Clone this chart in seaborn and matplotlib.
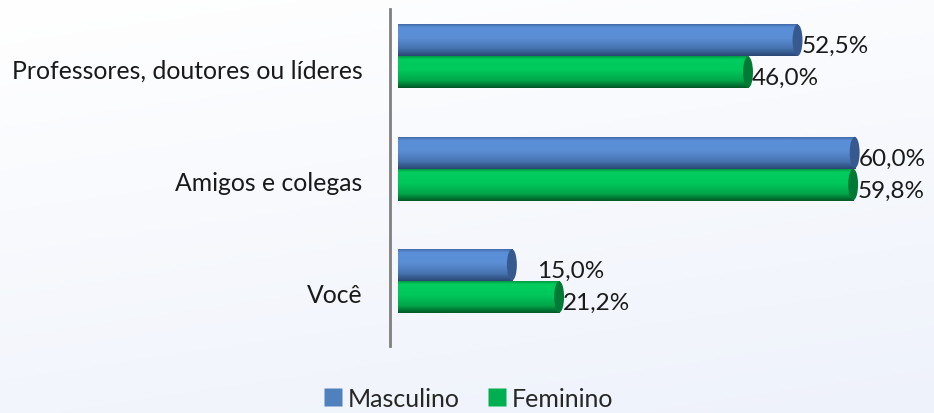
import numpy as np
import pandas as pd
import matplotlib
matplotlib.use("Agg")
import matplotlib.pyplot as plt
import matplotlib.transforms as mtransforms
from matplotlib.colors import LinearSegmentedColormap
from matplotlib.patches import Ellipse
from matplotlib.lines import Line2D
import seaborn as sns

categories = ["Professores, doutores ou líderes", "Amigos e colegas", "Você"]
series = ["Masculino", "Feminino"]
masculino = [52.5, 60.0, 15.0]
feminino = [46.0, 59.8, 21.2]
base_colors = {"Masculino": "#4f81bd", "Feminino": "#00b050"}

df = pd.DataFrame({
    "categoria": categories * 2,
    "valor": masculino + feminino,
    "sexo": [series[0]] * 3 + [series[1]] * 3,
})

sns.set_theme(style="white")
plt.rcParams["font.family"] = ["Lato", "DejaVu Sans"]

fig = plt.figure(figsize=(9.34, 4.14), dpi=100)

# background gradient
bg = fig.add_axes([0, 0, 1, 1], zorder=-10)
gy, gx = np.mgrid[0:1:200j, 0:1:200j]
grad = 0.75 * gy + 0.25 * gx
bg_cmap = LinearSegmentedColormap.from_list("bg", ["#ffffff", "#eef2fb"])
bg.imshow(grad, cmap=bg_cmap, aspect="auto", extent=[0, 1, 0, 1], origin="upper")
bg.axis("off")

ax = fig.add_axes([0.4176, 0.1618, 0.579, 0.814])
ax.patch.set_alpha(0)
sns.barplot(data=df, x="valor", y="categoria", hue="sexo", orient="h",
            palette=base_colors, width=0.57, ax=ax, legend=False,
            saturation=1, linewidth=0)

cmaps = {
    "Masculino": LinearSegmentedColormap.from_list(
        "b", [(0, "#3a5f98"), (0.12, "#5a8fd8"), (0.45, "#5b8ed5"),
              (0.78, "#4672ae"), (1, "#2a4775")]),
    "Feminino": LinearSegmentedColormap.from_list(
        "g", [(0, "#008a3c"), (0.12, "#00cd5f"), (0.45, "#00c85b"),
              (0.78, "#00a648"), (1, "#005a28")]),
}
caps = {"Masculino": "#36598f", "Feminino": "#007a35"}

grad_v = np.linspace(0, 1, 64).reshape(-1, 1)
for container, name in zip(ax.containers, series):
    for i, p in enumerate(container.patches):
        x, y, w, h = p.get_x(), p.get_y(), p.get_width(), p.get_height()
        im = ax.imshow(grad_v, cmap=cmaps[name], aspect="auto",
                       extent=[x, x + w, y + h, y], origin="upper", zorder=3)
        im.set_clip_path(p)
        ax.add_patch(Ellipse((x + w, y + h / 2), 1.3, h * 0.98,
                             facecolor=caps[name], edgecolor="none", zorder=4))
        val = container.datavalues[i]
        label = f"{val:.1f}%".replace(".", ",")
        # Excel pushed the short Masculino label of "Você" further right
        pad = 18 if (name == "Masculino" and val < 20) else 3
        ax.annotate(label, xy=(x + w, y + h / 2), xytext=(pad, -4),
                    textcoords="offset points", ha="left", va="center",
                    fontsize=17.5, color="#1a1a1a", zorder=5)

ax.set_xlim(-1.0, 70)
ax.set_ylim(2.58, -0.42)
ax.set_xlabel("")
ax.set_ylabel("")
ax.set_xticks([])
ax.tick_params(axis="y", length=0, pad=20, labelsize=17.8, labelcolor="#1a1a1a")
shift = mtransforms.ScaledTranslation(0, -0.12, fig.dpi_scale_trans)
for lab in ax.get_yticklabels():
    lab.set_transform(lab.get_transform() + shift)
for s in ["top", "right", "bottom"]:
    ax.spines[s].set_visible(False)
ax.spines["left"].set_color("#808080")
ax.spines["left"].set_linewidth(2)

handles = [Line2D([0], [0], marker="s", linestyle="none", markersize=13,
                  markerfacecolor=base_colors[s], markeredgecolor="none")
           for s in series]
fig.legend(handles, series, loc="lower center", bbox_to_anchor=(0.5, -0.047),
           ncol=2, frameon=False, fontsize=18, handletextpad=0.1,
           columnspacing=1.0, handlelength=1.0)

fig.savefig("out.png", dpi=100)
